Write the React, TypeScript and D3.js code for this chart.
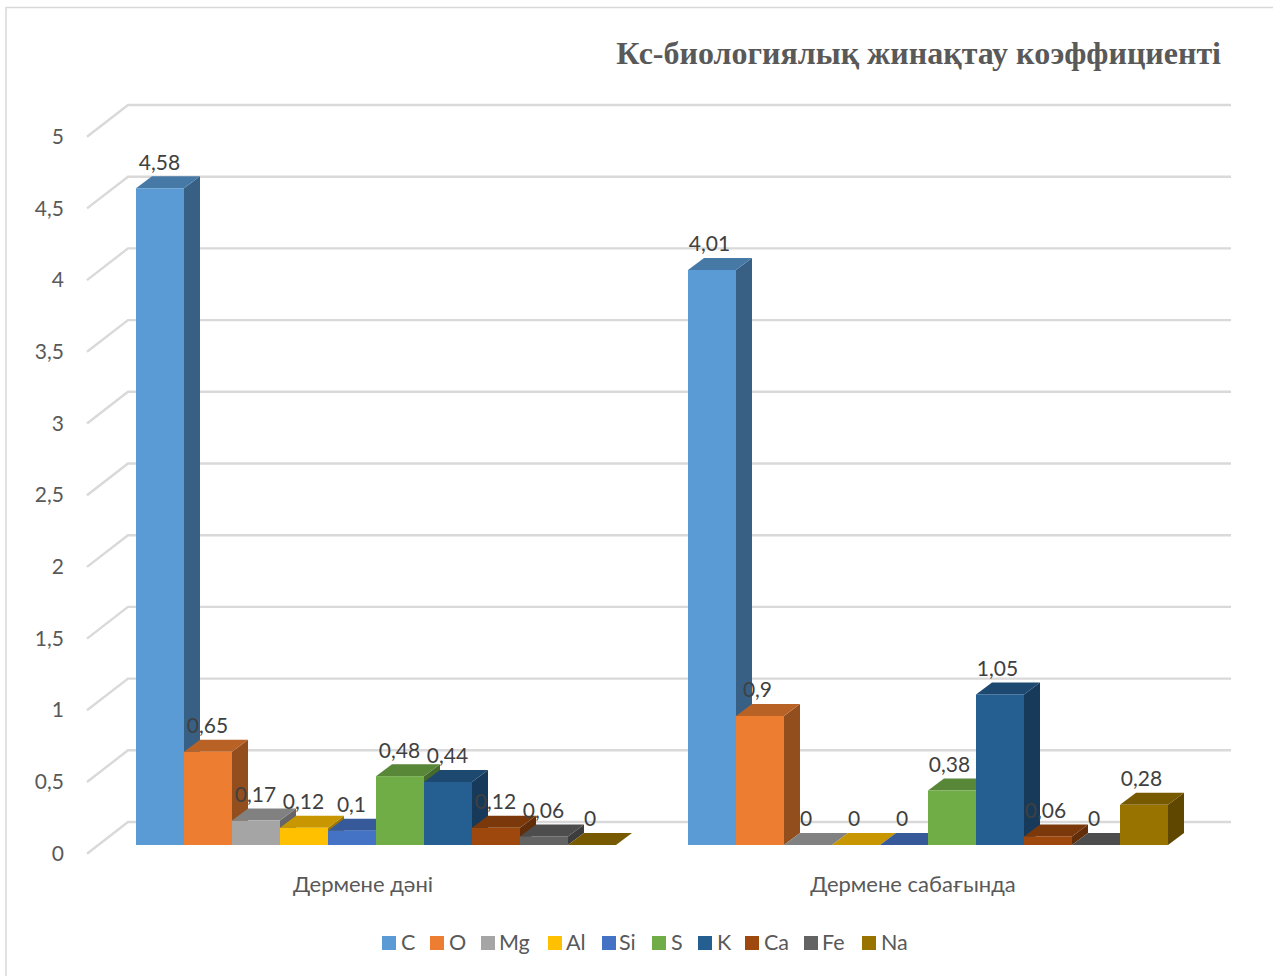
import React from "react";
import * as d3 from "d3";

const titleText = "Кс-биологиялық жинақтау коэффициенті";
const categories = ["Дермене дәні", "Дермене сабағында"];
const seriesNames = ["C", "O", "Mg", "Al", "Si", "S", "K", "Ca", "Fe", "Na"];
const seriesColors = ["#5B9BD5", "#ED7D31", "#A5A5A5", "#FFC000", "#4472C4", "#70AD47", "#255E91", "#9E480E", "#636363", "#997300"];
const grainValues = [4.58, 0.65, 0.17, 0.12, 0.1, 0.48, 0.44, 0.12, 0.06, 0];
const stemValues = [4.01, 0.9, 0, 0, 0, 0.38, 1.05, 0.06, 0, 0.28];
const yTicks = [0, 0.5, 1, 1.5, 2, 2.5, 3, 3.5, 4, 4.5, 5];
const legendSquareX = [382, 430, 481, 548, 602, 652, 698, 745, 804, 862];
const legendTextX = [401, 449, 499, 566, 619, 671, 717, 764, 822, 881];

const W = 1273, H = 976;
const FONT = "Lato, Carlito, 'Open Sans', sans-serif";
const DX = 16, DY = 12;

const y = d3.scaleLinear().domain([0, 5]).range([845, 128]);
const x0 = d3.scaleBand<string>().domain(categories).range([100, 1204]).paddingInner(72 / 552).paddingOuter(36 / 552);
const x1 = d3.scaleBand<string>().domain(seriesNames).range([0, x0.bandwidth()]);
const fmt = (v: number) => String(v).replace(".", ",");
const shade = (c: string, k: number) => {
  const r = d3.rgb(c);
  return d3.rgb(r.r * k, r.g * k, r.b * k).formatHex();
};

const poly = (pts: [number, number][]) => d3.line()(pts) + "Z";

export default function App() {
  const groups = [grainValues, stemValues];
  const bw = x1.bandwidth();
  return (
    <svg width={W} height={H} style={{ position: "absolute", left: 0, top: 0, background: "#fff" }}>
      <path d="M6,976V7.5H1273" fill="none" stroke="#d9d9d9" strokeWidth={1.5} />
      <text x={1221} y={64} textAnchor="end" fontFamily="'Liberation Serif', serif" fontWeight={700} fontSize={32} fill="#595959">{titleText}</text>
      {yTicks.map((t) => {
        const yy = y(t);
        return (
          <g key={t}>
            <path d={`M87,${yy + 8.7}L128,${yy - 23}H1231`} fill="none" stroke="#d9d9d9" strokeWidth={2.4} />
            <text x={64} y={yy + 8.5} dy="0.35em" textAnchor="end" fontFamily={FONT} fontSize={21} fill="#595959">{fmt(t)}</text>
          </g>
        );
      })}
      {categories.map((c, gi) => (
        <g key={c}>
          {seriesNames.map((s, si) => {
            const v = groups[gi][si];
            const left = x0(c)! + x1(s)!;
            const right = left + bw;
            const top = y(v), base = y(0);
            const col = seriesColors[si];
            return (
              <g key={s}>
                <path d={poly([[right, top], [right + DX, top - DY], [right + DX, base - DY], [right, base]])} fill={shade(col, 0.62)} />
                <path d={poly([[left, top], [left + DX, top - DY], [right + DX, top - DY], [right, top]])} fill={shade(col, 0.78)} />
                <rect x={left} y={top} width={bw} height={base - top} fill={col} />
              </g>
            );
          })}
        </g>
      ))}
      {categories.map((c, gi) => (
        <g key={c}>
          {seriesNames.map((s, si) => {
            const v = groups[gi][si];
            const nudge = v === 0 ? -2 : gi === 1 ? -2.5 : -0.5;
            return (
              <text key={s} x={x0(c)! + x1(s)! + bw / 2 + nudge} y={y(v) - DY - 14} dy="0.35em" textAnchor="middle" fontFamily={FONT} fontSize={21} fill="#404040">{fmt(v)}</text>
            );
          })}
          <text x={x0(c)! + x0.bandwidth() / 2 + (gi === 0 ? -13 : -15)} y={884} dy="0.35em" textAnchor="middle" fontFamily={FONT} fontSize={22} fill="#595959">{c}</text>
        </g>
      ))}
      {seriesNames.map((s, i) => (
        <g key={s}>
          <rect x={legendSquareX[i]} y={936} width={14} height={14} fill={seriesColors[i]} />
          <text x={legendTextX[i]} y={942} dy="0.35em" fontFamily={FONT} fontSize={21.5} fill="#595959">{s}</text>
        </g>
      ))}
    </svg>
  );
}
